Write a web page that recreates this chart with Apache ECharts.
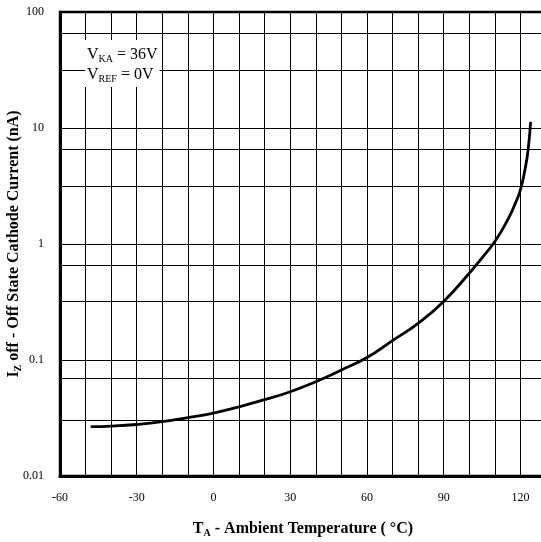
<!DOCTYPE html>
<html>
<head>
<meta charset="utf-8">
<script src="https://cdn.jsdelivr.net/npm/echarts@6/dist/echarts.min.js"></script>
<style>
  html, body { margin: 0; padding: 0; background: #fff; }
  #chart { width: 541px; height: 542px; }
</style>
</head>
<body>
<div id="chart"></div>
<script>
// ambient temperature (°C) and off state cathode current (nA)
var temps = [-48, -40, -30, -20, -10, 0, 10, 20, 30, 40, 50, 60, 70, 80, 90, 100, 105, 110, 115, 118, 120, 122, 123, 124];
var currents = [0.0266, 0.0269, 0.0278, 0.0294, 0.0319, 0.0349, 0.0395, 0.0455, 0.0533, 0.065, 0.082, 0.105, 0.147, 0.207, 0.32, 0.56, 0.76, 1.05, 1.61, 2.24, 2.93, 4.64, 6.46, 11.3];

var xLabels = [-60, -30, 0, 30, 60, 90, 120];
var yLabels = ['0.01', '0.1', '1', '10', '100'];
// extra horizontal grid lines inside each decade
var extraGrid = [0.0316, 0.065, 0.316, 0.65, 3.16, 6.5, 31.6, 65];

var font = 'Liberation Serif';
var myChart = echarts.init(document.getElementById('chart'));

var nameRich = {
    b: { fontFamily: font, fontWeight: 'bold', fontSize: 16, color: '#000' },
    bs: { fontFamily: font, fontWeight: 'bold', fontSize: 10, color: '#000', padding: [9, 0, 0, 0] }
};

var option = {
    animation: false,
    backgroundColor: '#fff',
    textStyle: { fontFamily: font, color: '#000' },
    grid: {
        left: 60,
        right: -5,
        top: 12,
        bottom: 66,
        containLabel: false,
        outerBoundsMode: 'none',
        show: true,
        borderColor: '#000',
        borderWidth: 2.5
    },
    xAxis: {
        type: 'value',
        min: -60,
        max: 130,
        interval: 10,
        name: '{b|T}{bs|A}{b| - Ambient Temperature ( °C)}',
        nameLocation: 'middle',
        nameGap: 43,
        nameMoveOverlap: false,
        nameTextStyle: { rich: nameRich },
        axisLine: { onZero: false, lineStyle: { color: '#000', width: 3 } },
        axisTick: { show: false },
        axisLabel: {
            margin: 16,
            fontSize: 12,
            fontFamily: font,
            color: '#000',
            formatter: function (v) {
                return xLabels.indexOf(v) >= 0 ? String(v) : '';
            }
        },
        splitLine: { show: true, lineStyle: { color: '#000', width: 1 } }
    },
    yAxis: {
        type: 'log',
        logBase: 10,
        min: 0.01,
        max: 100,
        name: '{b|I}{bs|Z}{b| off - Off State Cathode Current (nA)}',
        nameLocation: 'middle',
        nameGap: 37,
        nameRotate: 90,
        nameMoveOverlap: false,
        nameTextStyle: { rich: nameRich },
        axisLine: { show: true, onZero: false, lineStyle: { color: '#000', width: 3 } },
        axisTick: { show: false },
        axisLabel: {
            margin: 16,
            fontSize: 12,
            fontFamily: font,
            color: '#000',
            formatter: function (v) {
                var k = Math.round(Math.log10(v)) + 2;
                return yLabels[k] || '';
            }
        },
        splitLine: { show: true, lineStyle: { color: '#000', width: 1 } }
    },
    graphic: [{
        type: 'text',
        left: 85,
        top: 40,
        z: 10,
        style: {
            text: '{v|V}{s|KA}{v| = 36V}\n{v|V}{s|REF}{v| = 0V}',
            backgroundColor: '#fff',
            padding: [5, 2, 2, 2],
            rich: {
                v: { fontFamily: font, fontSize: 16, lineHeight: 20, fill: '#000', color: '#000' },
                s: { fontFamily: font, fontSize: 10, lineHeight: 20, fill: '#000', color: '#000', padding: [9, 0, 0, 0] }
            }
        }
    }],
    series: [{
        type: 'line',
        data: temps.map(function (t, i) { return [t, currents[i]]; }),
        symbol: 'none',
        smooth: true,
        lineStyle: { color: '#000', width: 2.8 },
        z: 5,
        markLine: {
            silent: true,
            symbol: 'none',
            label: { show: false },
            lineStyle: { color: '#000', width: 1, type: 'solid' },
            data: extraGrid.map(function (v) { return { yAxis: v }; })
        }
    }]
};

myChart.setOption(option);
</script>
</body>
</html>
